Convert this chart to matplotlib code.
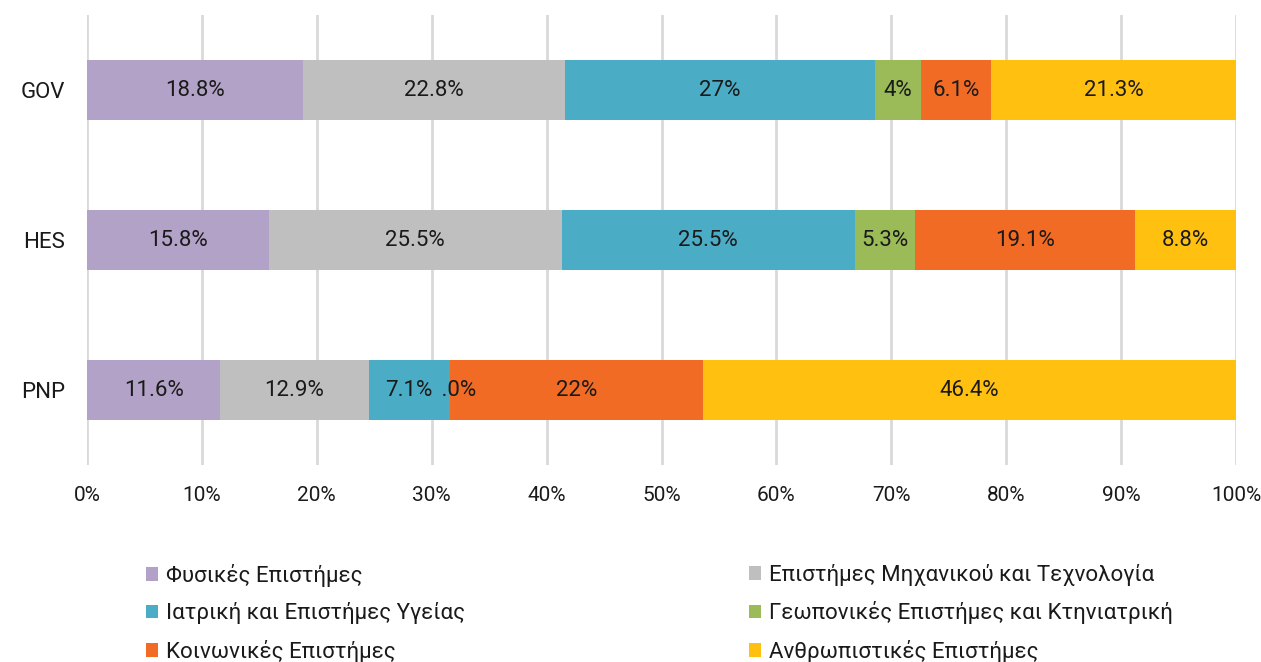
import matplotlib
matplotlib.use("Agg")
import matplotlib.pyplot as plt
from matplotlib.patches import Patch, Rectangle
import numpy as np

categories = ["GOV", "HES", "PNP"]
series_names = [
    "Φυσικές Επιστήμες",
    "Επιστήμες Μηχανικού και Τεχνολογία",
    "Ιατρική και Επιστήμες Υγείας",
    "Γεωπονικές Επιστήμες και Κτηνιατρική",
    "Κοινωνικές Επιστήμες",
    "Ανθρωπιστικές Επιστήμες",
]
phys = [18.8, 15.8, 11.6]
eng = [22.8, 25.5, 12.9]
med = [27.0, 25.5, 7.1]
agr = [4.0, 5.3, 0.0]
soc = [6.1, 19.1, 22.0]
hum = [21.3, 8.8, 46.4]
series = [phys, eng, med, agr, soc, hum]
colors = ["#B2A2C7", "#BFBFBF", "#4BACC6", "#9BBB59", "#F26B24", "#FFC00F"]
xticks = [0, 10, 20, 30, 40, 50, 60, 70, 80, 90, 100]

plt.rcParams['font.family'] = ['Roboto', 'DejaVu Sans']

fig = plt.figure(figsize=(12.61, 6.62), dpi=100)
ax = fig.add_axes([87/1261, 1-465/662, (1236-87)/1261, 450/662])

y = np.arange(len(categories))
left = np.zeros(len(categories))

def fmt(v):
    s = f"{v:.1f}"
    if s.endswith(".0") and v != 0:
        s = s[:-2]
    return s + "%"

for vals, col in zip(series, colors):
    vals = np.array(vals)
    ax.barh(y, vals, left=left, height=0.4, color=col, zorder=2)
    for yi, (l, v) in enumerate(zip(left, vals)):
        t = ax.text(l + v/2 + (0.3 if v == 0 else 0), yi, fmt(v), ha="center", va="center",
                    fontsize=16, color="#1a1a1a", zorder=4)
        if v == 0:
            clip = Rectangle((l - 0.6, yi - 0.3), 100, 0.6, transform=ax.transData)
            t.set_clip_on(True)
            t.set_clip_path(clip)
    left = left + vals

ax.set_xlim(0, 100)
ax.set_ylim(2.5, -0.5)
ax.set_yticks(y)
ax.set_yticklabels(categories, fontsize=16, color="#1a1a1a")
ax.set_xticks(xticks)
ax.set_xticklabels([f"{t}%" for t in xticks], fontsize=15, color="#1a1a1a")
ax.tick_params(axis="both", length=0)
ax.tick_params(axis="y", pad=16)
ax.tick_params(axis="x", pad=15)
ax.grid(axis="x", color="#D9D9D9", linewidth=2, zorder=0)
ax.set_axisbelow(True)
for s in ax.spines.values():
    s.set_visible(False)

handles = [Patch(facecolor=c, edgecolor="none") for c in colors]
common = dict(frameon=False, fontsize=16, handlelength=0.55, handleheight=0.55,
              handletextpad=0.35, labelspacing=0.69, borderaxespad=0, borderpad=0)
leg1 = fig.legend([handles[i] for i in (0, 2, 4)], [series_names[i] for i in (0, 2, 4)],
                  loc="upper left", bbox_to_anchor=(146/1261, 1-564/662), **common)
leg2 = fig.legend([handles[i] for i in (1, 3, 5)], [series_names[i] for i in (1, 3, 5)],
                  loc="upper left", bbox_to_anchor=(749/1261, 1-564/662), **common)
for leg in (leg1, leg2):
    for t in leg.get_texts():
        t.set_color("#1a1a1a")

fig.savefig("out.png", dpi=100)
